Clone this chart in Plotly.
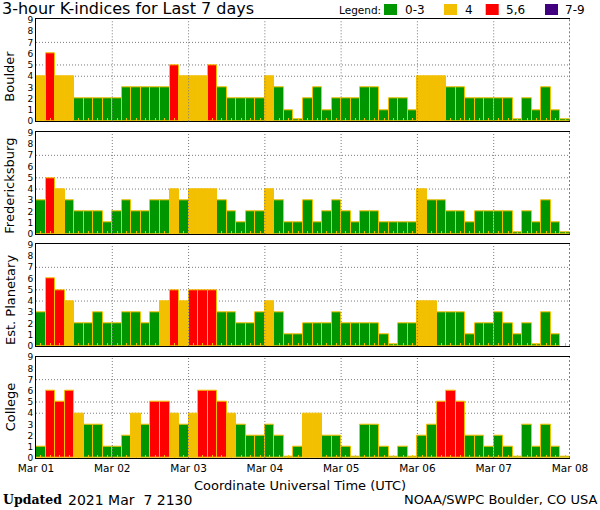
import plotly.graph_objects as go

# ---------------- data ----------------
DAY_LABELS = ["Mar 01", "Mar 02", "Mar 03", "Mar 04", "Mar 05", "Mar 06", "Mar 07", "Mar 08"]
STATIONS = ["Boulder", "Fredericksburg", "Est. Planetary", "College"]
K_TICKS = [0, 1, 2, 3, 4, 5, 6, 7, 8, 9]

boulder = [4, 6, 4, 4, 2, 2, 2, 2,
           2, 3, 3, 3, 3, 3, 5, 4,
           4, 4, 5, 3, 2, 2, 2, 2,
           4, 3, 1, 0, 2, 3, 1, 2,
           2, 2, 3, 3, 1, 2, 2, 1,
           4, 4, 4, 3, 3, 2, 2, 2,
           2, 2, 0, 2, 1, 3, 1, 0]

fredericksburg = [3, 5, 4, 3, 2, 2, 2, 1,
                  2, 3, 2, 2, 3, 3, 4, 3,
                  4, 4, 4, 3, 2, 1, 2, 2,
                  4, 3, 1, 1, 3, 1, 2, 3,
                  2, 1, 2, 2, 1, 1, 1, 1,
                  4, 3, 3, 2, 2, 1, 2, 2,
                  2, 2, 0, 2, 1, 3, 1, 0]

est_planetary = [3, 6, 5, 4, 2, 2, 3, 2,
                 2, 3, 3, 2, 3, 4, 5, 4,
                 5, 5, 5, 3, 3, 2, 2, 3,
                 4, 3, 1, 1, 2, 2, 2, 3,
                 2, 2, 2, 2, 1, 0, 2, 2,
                 4, 4, 3, 3, 3, 1, 2, 2,
                 3, 2, 1, 2, 0, 3, 1, None]

college = [1, 6, 5, 6, 4, 3, 3, 1,
           1, 2, 4, 3, 5, 5, 4, 3,
           4, 6, 6, 5, 4, 3, 2, 2,
           3, 2, 0, 1, 4, 4, 2, 2,
           1, 0, 3, 3, 1, 0, 1, 0,
           2, 3, 5, 6, 5, 2, 2, 1,
           2, 1, 0, 3, 1, 3, 1, 0]

SERIES = [boulder, fredericksburg, est_planetary, college]
LEGEND_LABELS = ["0-3", "4", "5,6", "7-9"]

# ---------------- style ----------------
GREEN, YELLOW, RED, PURPLE = "#009600", "#F2C000", "#FF0000", "#400080"
CAT_COLORS = [GREEN, YELLOW, RED, PURPLE]
OUTLINE = "#F5C000"
GRID = "#7a7a7a"
FONT = "DejaVu Sans"
ZERO_SHOW = 0.15  # thin sliver so that K=0 intervals are visible

W, H = 600, 510
ML, MR, MT, MB = 36, 30, 19, 52
PW, PH = W - ML - MR, H - MT - MB


def pxx(x):
    return (x - ML) / PW


def pxy(y):
    return (H - MB - y) / PH


PANEL_PX = [(19.3, 121.3), (132.3, 234.0), (244.3, 346.0), (356.7, 458.0)]
YTITLE_PX = [76.7, 185.7, 300.0, 407.3]


def kcolor(k):
    if k is None:
        return GREEN
    if k <= 3:
        return CAT_COLORS[0]
    if k == 4:
        return CAT_COLORS[1]
    if k <= 6:
        return CAT_COLORS[2]
    return CAT_COLORS[3]


fig = go.Figure()
shapes = []
annotations = []
day_hours = [24 * d for d in range(len(DAY_LABELS))]

for i, (name, vals) in enumerate(zip(STATIONS, SERIES)):
    n = i + 1
    suffix = "" if n == 1 else str(n)
    xid, yid = "x" + suffix, "y" + suffix
    xs = [3 * k + 1.5 for k in range(len(vals))]
    ys = [None if v is None else (v if v > 0 else ZERO_SHOW) for v in vals]
    fig.add_trace(go.Bar(
        x=xs, y=ys, width=3, name=name, showlegend=False,
        marker=dict(color=[kcolor(v) for v in vals], line=dict(color=OUTLINE, width=1)),
        xaxis=xid, yaxis=yid,
        customdata=vals, hovertemplate=name + " K=%{customdata}<extra></extra>",
    ))
    top, bot = PANEL_PX[i]
    fig.update_layout(**{
        f"xaxis{suffix}": dict(
            domain=[0, 1], anchor=yid, range=[0, 168],
            showline=True, linecolor="black", linewidth=1, mirror=True,
            showgrid=False, zeroline=False, ticks="",
            tickvals=day_hours, ticktext=DAY_LABELS,
            showticklabels=(n == 4),
            tickfont=dict(family=FONT, size=10.5, color="black"),
            minor=dict(ticks="inside", ticklen=3, tickcolor=OUTLINE, tickwidth=1,
                       tick0=1.5, dtick=3, showgrid=False),
            fixedrange=True,
        ),
        f"yaxis{suffix}": dict(
            domain=[pxy(bot), pxy(top)], anchor=xid, range=[0, 9.05],
            showline=True, linecolor="black", linewidth=1, mirror=False,
            showgrid=False, zeroline=False, ticks="",
            tickvals=K_TICKS,
            tickfont=dict(family=FONT, size=9, color="black"),
            fixedrange=True,
        ),
    })
    # horizontal dotted reference lines (behind bars)
    for lev in (4, 5, 7):
        shapes.append(dict(type="line", xref=f"{xid} domain", yref=yid,
                           x0=0, x1=1, y0=lev, y1=lev, layer="below",
                           line=dict(color=GRID, width=1, dash="1px,2px")))
    # vertical day lines (over bars)
    for h in day_hours[1:-1]:
        shapes.append(dict(type="line", xref=xid, yref=f"{yid} domain",
                           x0=h, x1=h, y0=0, y1=1, layer="above",
                           line=dict(color=GRID, width=1, dash="1px,2px")))
    # dashed right frame
    shapes.append(dict(type="line", xref=xid, yref=f"{yid} domain",
                       x0=168, x1=168, y0=0, y1=1, layer="above",
                       line=dict(color="black", width=1, dash="2px,2px")))
    annotations.append(dict(
        text=name, xref="paper", yref="paper", x=pxx(10), y=pxy(YTITLE_PX[i]),
        xanchor="center", yanchor="middle", textangle=-90, showarrow=False,
        font=dict(family=FONT, size=13, color="black")))

# title
annotations.append(dict(text="3-hour K-indices for Last 7 days", xref="paper", yref="paper",
                        x=pxx(0), y=pxy(8.5), xanchor="left", yanchor="middle", showarrow=False,
                        font=dict(family=FONT, size=16, color="black")))
# legend
annotations.append(dict(text="Legend:", xref="paper", yref="paper",
                        x=pxx(336.5), y=pxy(10), xanchor="left", yanchor="middle", showarrow=False,
                        font=dict(family=FONT, size=10.5, color="black")))
LEG_BOX_X = [384, 444, 485.7, 545]
LEG_TXT_X = [402.5, 462.5, 503.5, 563]
for lab, col, bx, tx in zip(LEGEND_LABELS, CAT_COLORS, LEG_BOX_X, LEG_TXT_X):
    shapes.append(dict(type="rect", xref="paper", yref="paper",
                       x0=pxx(bx), x1=pxx(bx + 13), y0=pxy(15), y1=pxy(4),
                       fillcolor=col, line=dict(width=0)))
    annotations.append(dict(text=lab, xref="paper", yref="paper",
                            x=pxx(tx), y=pxy(10), xanchor="left", yanchor="middle", showarrow=False,
                            font=dict(family=FONT, size=12, color="black")))
# x axis title
annotations.append(dict(text="Coordinate Universal Time (UTC)", xref="paper", yref="paper",
                        x=pxx(300), y=pxy(485), xanchor="center", yanchor="middle", showarrow=False,
                        font=dict(family=FONT, size=13, color="black")))
# footer
annotations.append(dict(text="<b>Updated</b>", xref="paper", yref="paper",
                        x=pxx(1), y=pxy(500), xanchor="left", yanchor="middle", showarrow=False,
                        font=dict(family="DejaVu Serif", size=12.5, color="black")))
annotations.append(dict(text="2021 Mar\u00a0 7 2130", xref="paper", yref="paper",
                        x=pxx(66), y=pxy(500), xanchor="left", yanchor="middle", showarrow=False,
                        font=dict(family=FONT, size=14, color="black")))
annotations.append(dict(text="NOAA/SWPC Boulder, CO USA", xref="paper", yref="paper",
                        x=pxx(599), y=pxy(500), xanchor="right", yanchor="middle", showarrow=False,
                        font=dict(family=FONT, size=13, color="black")))

fig.update_layout(
    width=W, height=H,
    margin=dict(l=ML, r=MR, t=MT, b=MB, pad=0),
    paper_bgcolor="white", plot_bgcolor="white",
    bargap=0, barmode="overlay",
    shapes=shapes, annotations=annotations,
    showlegend=False,
)

fig.write_html("out.html",
               config={"displayModeBar": False},
               post_script="document.body.style.margin='0';document.body.style.overflow='hidden';")
